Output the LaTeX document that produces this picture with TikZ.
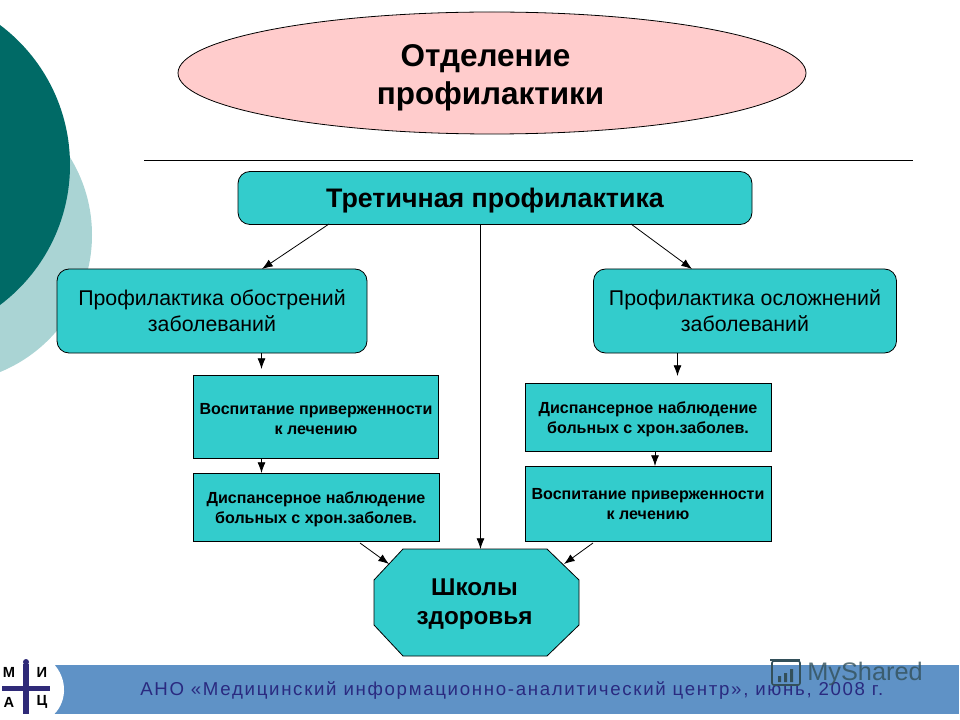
\documentclass[tikz,border=0pt]{standalone}
\usepackage{fontspec}
\setmainfont{Liberation Sans}
\usetikzlibrary{arrows.meta,shapes.geometric}
\definecolor{tealbox}{HTML}{33CCCC}
\definecolor{darkteal}{HTML}{006A66}
\definecolor{lightteal}{HTML}{AAD4D4}
\definecolor{pinkfill}{HTML}{FFCCCC}
\definecolor{bandblue}{HTML}{5F92C6}
\definecolor{navytext}{HTML}{2A2A80}
\definecolor{logoblue}{HTML}{2F2A78}
\definecolor{markgrey}{HTML}{33505A}
\tikzset{
  x=0.75pt,y=-0.75pt,
  boxbase/.style={draw=black,line width=0.6pt,fill=tealbox,inner sep=0pt},
  roundbox/.style={boxbase,rounded corners=9pt},
  plainbox/.style={boxbase},
  boxtext/.style={align=center,inner sep=0pt,text=black},
  toptext/.style={boxtext,font=\fontsize{20.1pt}{24pt}\selectfont\bfseries},
  roundtext/.style={boxtext,font=\fontsize{16pt}{19.4pt}\selectfont},
  plaintext/.style={boxtext,font=\fontsize{12.05pt}{15pt}\selectfont\bfseries},
  logotext/.style={font=\fontsize{11pt}{12pt}\selectfont\bfseries,text=black,inner sep=0pt},
  conn/.style={draw=black,line width=0.6pt,-{Latex[length=8pt,width=6pt]}},
}
\newcommand{\sizedbox}[7]{%
  \node[#1,minimum width=#4*0.75pt,minimum height=#5*0.75pt] (#2) at (#3) {};
  \node[#6] (#2txt) at ([yshift=#7]#2.center) {\boxlabel};}
\begin{document}
\begin{tikzpicture}
\useasboundingbox (0,0) rectangle (960,720);
\fill[white] (0,0) rectangle (960,720);
\begin{scope}
\clip (0,0) rectangle (960,720);
\fill[lightteal] (-56,235) circle[radius=148];
\fill[darkteal] (-105,165) circle[radius=175];
\end{scope}

% footer band and logo
\fill[bandblue] (52,665) rectangle (959,714);
\fill[white] (0,662) -- (52,662) .. controls (70,680) and (66,705) .. (52,716) -- (0,716) -- cycle;
\fill[logoblue] (23,664) rectangle (29,714);
\fill[logoblue] (26,662) circle[radius=3];
\fill[logoblue] (2,686) rectangle (50,691);
\node[logotext] (lm) at (9,672) {М};
\node[logotext] (li) at (42,672) {И};
\node[logotext] (la) at (9,702) {А};
\node[logotext] (lc) at (42,702) {Ц};
\node[font=\fontsize{14pt}{16pt}\selectfont,text=navytext,anchor=west,inner sep=0pt] (foot) at (140,691)
  {\addfontfeatures{LetterSpace=9}АНО «Медицинский информационно-аналитический центр», июнь, 2008 г.};

% watermark
\node[font=\fontsize{19pt}{20pt}\selectfont,text=markgrey,anchor=west,inner sep=0pt,opacity=.8] (mark) at (807,674) {MyShared};
\draw[markgrey,line width=1.2pt,rounded corners=1.5pt] (772,661) rectangle (800,685);
\draw[markgrey,line width=1.2pt] (770,660) -- (800,660);
\fill[markgrey] (778,676) rectangle (781,682) (784,673) rectangle (787,682) (790,669) rectangle (793,682);

% title
\node[ellipse,draw=black,line width=0.6pt,fill=pinkfill,minimum width=628*0.75pt,minimum height=122*0.75pt,inner sep=0pt] (title) at (492,73) {};
\node[font=\fontsize{23.6pt}{28.5pt}\selectfont\bfseries,align=center,inner sep=0pt] (titletext) at (485.5,78) {Отделение\\\hspace*{7.5pt}профилактики};
\coordinate (ruleL) at (144,160);
\coordinate (ruleR) at (913,160);
\draw[black,line width=0.6pt] (ruleL) -- (ruleR);

% boxes
\def\boxlabel{Третичная профилактика}
\sizedbox{roundbox}{top}{495,198}{514}{53}{toptext}{-2.2pt}
\def\boxlabel{Профилактика обострений\\заболеваний}
\sizedbox{roundbox}{left}{212,311}{310}{84}{roundtext}{0pt}
\def\boxlabel{Профилактика осложнений\\заболеваний}
\sizedbox{roundbox}{right}{745,311}{303}{84}{roundtext}{0pt}
\def\boxlabel{Воспитание приверженности\\к лечению}
\sizedbox{plainbox}{pa}{316,417}{245}{83}{plaintext}{-1.5pt}
\def\boxlabel{Диспансерное наблюдение\\больных с хрон.заболев.}
\sizedbox{plainbox}{pb}{316,507}{246}{68}{plaintext}{-1.5pt}
\sizedbox{plainbox}{ra}{648,417}{246}{68}{plaintext}{-1.5pt}
\def\boxlabel{Воспитание приверженности\\к лечению}
\sizedbox{plainbox}{rb}{648,504}{246}{75}{plaintext}{0pt}

% octagon
\coordinate (o1) at (403,549);
\coordinate (o2) at (547,549);
\coordinate (o3) at (579,580);
\coordinate (o4) at (579,625);
\coordinate (o5) at (547,656);
\coordinate (o6) at (403,656);
\coordinate (o7) at (374,625);
\coordinate (o8) at (374,580);
\draw[black,line width=0.6pt,fill=tealbox] (o1) -- (o2) -- (o3) -- (o4) -- (o5) -- (o6) -- (o7) -- (o8) -- cycle;
\node[font=\fontsize{18.2pt}{22pt}\selectfont\bfseries,align=center,inner sep=0pt] (school) at (474.5,604) {Школы\\здоровья};

% connector anchors
\coordinate (a1) at (329,224);
\coordinate (a1e) at (262,269);
\coordinate (a2) at (631,224);
\coordinate (a2e) at (692,269);
\coordinate (a3) at (480.5,224);
\coordinate (a3e) at (480.5,549);
\coordinate (a4) at (261.5,353);
\coordinate (a4e) at (261.5,369);
\coordinate (a5) at (261.5,458);
\coordinate (a5e) at (261.5,473);
\coordinate (a6) at (677.5,353);
\coordinate (a6e) at (677.5,376);
\coordinate (a7) at (655,451);
\coordinate (a7e) at (655,466);
\coordinate (a8) at (360,543);
\coordinate (a8e) at (389,564);
\coordinate (a9) at (593,543);
\coordinate (a9e) at (564,564);
\draw[conn] (a1) -- (a1e);
\draw[conn] (a2) -- (a2e);
\draw[conn] (a3) -- (a3e);
\draw[conn] (a4) -- (a4e);
\draw[conn] (a5) -- (a5e);
\draw[conn] (a6) -- (a6e);
\draw[conn] (a7) -- (a7e);
\draw[conn] (a8) -- (a8e);
\draw[conn] (a9) -- (a9e);
\end{tikzpicture}
\end{document}
